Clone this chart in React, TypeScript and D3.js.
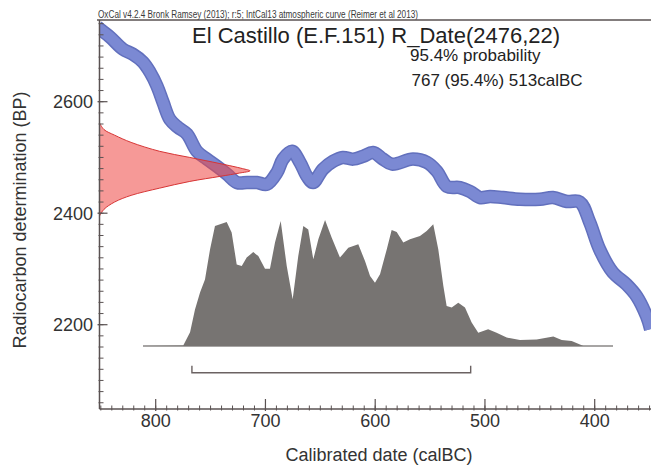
import React from 'react';
import * as d3 from 'd3';

// IntCal13 curve (calBC year, BP)
const CURVE_YEARS = [853.5, 850.7, 841.6, 829.8, 820.7, 811.6, 805.2, 798.8, 793.3, 787.0, 779.7, 771.5, 762.4, 753.3, 744.1, 735.0, 725.9, 716.8, 707.7, 698.6, 689.5, 684.0, 675.8, 668.5, 662.1, 656.7, 647.6, 638.5, 629.4, 620.2, 611.1, 602.0, 592.9, 584.7, 565.6, 552.8, 543.7, 534.6, 522.8, 513.6, 504.5, 495.4, 483.6, 468.1, 449.9, 438.0, 425.3, 413.5, 404.6, 395.5, 383.6, 370.9, 361.8, 352.7, 349.0];
const CURVE_BP = [2735, 2730, 2716, 2694, 2685, 2671, 2653, 2628, 2599, 2568, 2554, 2542, 2511, 2497, 2484, 2470, 2455, 2455, 2455, 2452, 2473, 2497, 2511, 2491, 2466, 2455, 2479, 2493, 2500, 2497, 2502, 2509, 2497, 2488, 2497, 2491, 2475, 2448, 2446, 2439, 2428, 2430, 2428, 2425, 2425, 2428, 2421, 2420, 2384, 2335, 2294, 2272, 2251, 2215, 2192];

// Calibrated probability distribution (calBC year, relative probability)
const HIST_YEARS = [811.6, 774.9, 768.7, 764.2, 759.6, 755.1, 750.5, 746.0, 735.3, 730.8, 726.2, 721.6, 717.1, 711.1, 706.5, 700.4, 695.9, 691.3, 686.1, 680.6, 675.2, 670.1, 665.5, 661.0, 656.4, 651.8, 645.7, 639.6, 632.1, 624.5, 615.4, 609.3, 604.7, 600.2, 595.6, 589.5, 585.0, 580.4, 574.4, 568.3, 559.2, 553.1, 547.1, 542.5, 537.9, 534.9, 530.3, 524.3, 518.2, 512.1, 506.1, 497.1, 489.4, 480.2, 468.1, 452.9, 437.7, 430.1, 421.0, 413.4, 410.4, 383.3];
const HIST_PROB = [0, 0.004, 0.109, 0.291, 0.426, 0.529, 0.767, 0.952, 0.984, 0.902, 0.648, 0.635, 0.702, 0.746, 0.714, 0.614, 0.614, 0.821, 0.992, 0.635, 0.371, 0.714, 0.952, 0.926, 0.688, 0.847, 1.0, 0.86, 0.702, 0.781, 0.807, 0.675, 0.556, 0.503, 0.569, 0.767, 0.921, 0.905, 0.821, 0.847, 0.873, 0.913, 0.966, 0.767, 0.476, 0.317, 0.305, 0.344, 0.305, 0.186, 0.106, 0.133, 0.106, 0.067, 0.048, 0.053, 0.075, 0.048, 0.04, 0.013, 0, 0];

// Radiocarbon measurement R_Date(2476,22) (BP, relative probability)
const RDATE_BP = [2562, 2550, 2540, 2527, 2511, 2500, 2489, 2480, 2476, 2472, 2466, 2457, 2445, 2432, 2420, 2407, 2395];
const RDATE_PROB = [0, 0.03, 0.1, 0.21, 0.4, 0.6, 0.8, 0.95, 1.0, 0.93, 0.8, 0.6, 0.4, 0.21, 0.1, 0.03, 0];

const X_TICKS = [800, 700, 600, 500, 400];
const Y_TICKS = [2200, 2400, 2600];
const RANGE_FROM = 767;
const RANGE_TO = 513;

const HEADER = 'OxCal v4.2.4 Bronk Ramsey (2013); r:5; IntCal13 atmospheric curve (Reimer et al 2013)';
const TITLE = 'El Castillo (E.F.151) R_Date(2476,22)';
const PROB_LABEL = '95.4% probability';
const RANGE_LABEL = '767 (95.4%) 513calBC';

const W = 651;
const H = 470;
const LEFT = 99.5;
const RIGHT = 651;
const TOP = 20;
const BOTTOM = 409;
const FONT = '"Liberation Sans", Arial, sans-serif';

export default function App() {
  const x = d3.scaleLinear().domain([800, 400]).range([155.7, 594.7]);
  const y = d3.scaleLinear().domain([2200, 2600]).range([324.7, 101.7]);
  // histogram vertical scale in BP units
  const histBase = 2161.7;
  const histTop = 2387.7;
  const hy = (p: number) => y(histBase + p * (histTop - histBase));
  const redMaxW = 150.5;

  const curveData = CURVE_YEARS.map((yr, i) => [yr, CURVE_BP[i]] as [number, number]);
  const curveLine = d3
    .line<[number, number]>()
    .x((d) => x(d[0]))
    .y((d) => y(d[1]))
    .curve(d3.curveCatmullRom.alpha(0.5));
  const curvePath = curveLine(curveData) || '';

  const histData = HIST_YEARS.map((yr, i) => [yr, HIST_PROB[i]] as [number, number]);
  const histArea = d3
    .area<[number, number]>()
    .x((d) => x(d[0]))
    .y0(hy(0))
    .y1((d) => hy(d[1]))
    .curve(d3.curveLinear);
  const histPath = histArea(histData) || '';

  const redData = RDATE_BP.map((bp, i) => [bp, RDATE_PROB[i]] as [number, number]);
  const redArea = d3
    .area<[number, number]>()
    .y((d) => y(d[0]))
    .x0(LEFT)
    .x1((d) => LEFT + d[1] * redMaxW)
    .curve(d3.curveCatmullRom.alpha(0.5));
  const redPath = redArea(redData) || '';

  const xMinor = d3.range(850, 340, -10).filter((v) => x(v) > LEFT + 1 && x(v) < RIGHT);
  const yMinor = d3.range(2060, 2760, 20).filter((v) => y(v) > TOP + 1 && y(v) < BOTTOM);

  const axisColor = '#5a5252';
  const rangeY = 372.7;

  return (
    <svg width={W} height={H} style={{ position: 'absolute', left: 0, top: 0, background: '#fff' }} fontFamily={FONT}>
      <defs>
        <clipPath id="plot">
          <rect x={LEFT} y={TOP} width={RIGHT - LEFT} height={BOTTOM - TOP} />
        </clipPath>
      </defs>
      <rect x={0} y={0} width={W} height={H} fill="#fff" />

      {/* header */}
      <text x={98} y={17.5} fontSize={10} fill="#3a3a3a" textLength={320} lengthAdjust="spacingAndGlyphs">
        {HEADER}
      </text>
      <line x1={97} x2={RIGHT} y1={20} y2={20} stroke={axisColor} strokeWidth={1.3} />

      <g clipPath="url(#plot)">
        {/* calibration curve band */}
        <path d={curvePath} fill="none" stroke="#6270bd" strokeWidth={13.5} strokeLinejoin="round" />
        <path d={curvePath} fill="none" stroke="#7b89d3" strokeWidth={10.5} strokeLinejoin="round" />

        {/* radiocarbon date distribution */}
        <path d={redPath} fill="rgb(238,70,66)" fillOpacity={0.55} stroke="rgb(214,52,52)" strokeWidth={1} />

        {/* calibrated distribution */}
        <line x1={x(HIST_YEARS[0])} x2={x(HIST_YEARS[HIST_YEARS.length - 1])} y1={hy(0)} y2={hy(0)} stroke="#8a8786" strokeWidth={1.5} />
        <path d={histPath} fill="#777472" stroke="none" />
      </g>

      {/* 95.4% range bracket */}
      <path
        d={`M${x(RANGE_FROM)},${rangeY - 7}L${x(RANGE_FROM)},${rangeY}L${x(RANGE_TO)},${rangeY}L${x(RANGE_TO)},${rangeY - 7}`}
        fill="none"
        stroke="#6b6262"
        strokeWidth={1.4}
      />

      {/* axes */}
      <line x1={LEFT} x2={LEFT} y1={TOP} y2={BOTTOM} stroke={axisColor} strokeWidth={1.5} />
      <line x1={LEFT} x2={RIGHT} y1={BOTTOM} y2={BOTTOM} stroke={axisColor} strokeWidth={1.5} />
      {xMinor.map((v) => (
        <line key={'xm' + v} x1={x(v)} x2={x(v)} y1={BOTTOM - 3.5} y2={BOTTOM + 1.5} stroke={axisColor} strokeWidth={1} />
      ))}
      {yMinor.map((v) => (
        <line key={'ym' + v} x1={LEFT - 1} x2={LEFT + 4} y1={y(v)} y2={y(v)} stroke={axisColor} strokeWidth={1} />
      ))}
      {X_TICKS.map((v) => (
        <g key={'xt' + v}>
          <line x1={x(v)} x2={x(v)} y1={BOTTOM - 10} y2={BOTTOM + 2} stroke={axisColor} strokeWidth={1.2} />
          <text x={x(v)} y={427} fontSize={18} textAnchor="middle" fill="#333">
            {v}
          </text>
        </g>
      ))}
      {Y_TICKS.map((v) => (
        <g key={'yt' + v}>
          <line x1={LEFT - 2} x2={LEFT + 8} y1={y(v)} y2={y(v)} stroke={axisColor} strokeWidth={1.2} />
          <text x={93} y={y(v) + 6.5} fontSize={18} textAnchor="end" fill="#333">
            {v}
          </text>
        </g>
      ))}

      {/* axis titles */}
      <text x={379} y={461} fontSize={18} textAnchor="middle" fill="#333">
        Calibrated date (calBC)
      </text>
      <text transform="translate(26,220) rotate(-90)" fontSize={18} textAnchor="middle" fill="#333">
        Radiocarbon determination (BP)
      </text>

      {/* title & annotations */}
      <text x={192} y={43} fontSize={22} fill="#222">
        {TITLE}
      </text>
      <text x={410} y={61} fontSize={17} fill="#222">
        {PROB_LABEL}
      </text>
      <text x={411.5} y={86} fontSize={17} fill="#222">
        {RANGE_LABEL}
      </text>
    </svg>
  );
}
